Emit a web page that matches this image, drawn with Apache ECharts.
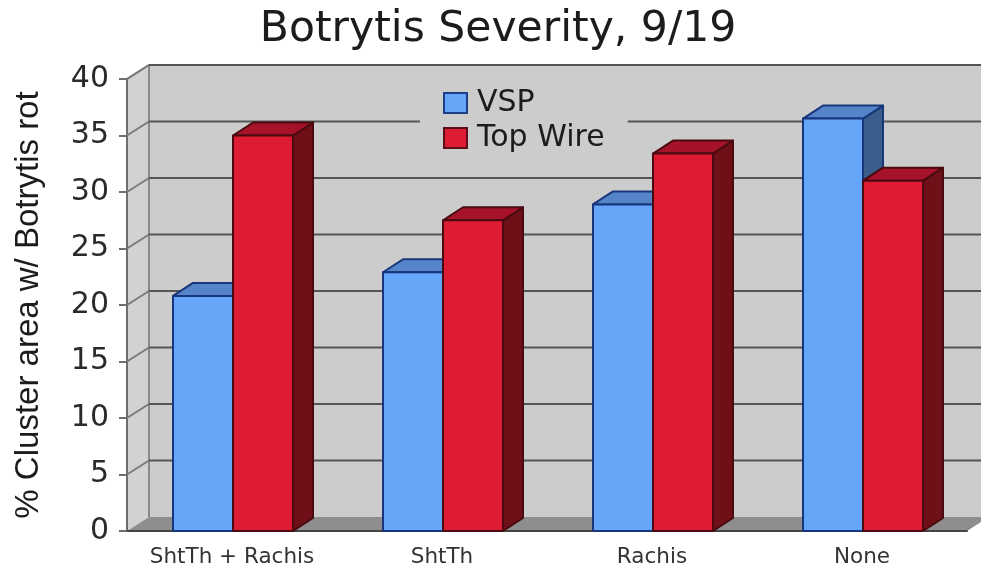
<!DOCTYPE html>
<html>
<head>
<meta charset="utf-8">
<style>html,body{margin:0;padding:0;background:#fff}#c{width:981px;height:569px;filter:blur(0.5px)}</style>
<script src="https://cdn.jsdelivr.net/npm/echarts@6/dist/echarts.min.js"></script>
</head>
<body>
<div id="c"></div>
<script>
var categories = ['ShtTh + Rachis', 'ShtTh', 'Rachis', 'None'];
var vspValues = [20.8, 22.9, 28.9, 36.5];
var topWireValues = [35, 27.5, 33.4, 31];
var yTicks = [5, 10, 15, 20, 25, 30, 35, 40];
var titleText = 'Botrytis Severity, 9/19';
var yAxisName = '% Cluster area w/ Botrytis rot';

var DEPTH_X = 22, DEPTH_Y = 14, BAR_DEPTH_X = 20, BAR_DEPTH_Y = 13;
var BAR_RATIO = 60 / 210, GROUP_SHIFT = 1;

var chart = echarts.init(document.getElementById('c'), null, {renderer: 'canvas'});

function wallItem(params) {
  var g = params.coordSys;
  var l = g.x, r = g.x + g.width, t = g.y, b = g.y + g.height;
  var dx = DEPTH_X, dy = DEPTH_Y;
  var edge = {stroke: '#8a8a8a', lineWidth: 2, fill: null};
  return {type: 'group', children: [
    {type: 'polygon', shape: {points: [[l + dx, t - dy], [r + dx, t - dy], [r + dx, b - dy], [l + dx, b - dy]]}, style: {fill: '#cccccc'}},
    {type: 'polygon', shape: {points: [[l, t], [l + dx, t - dy], [l + dx, b - dy], [l, b]]}, style: {fill: '#d2d2d2'}},
    {type: 'polygon', shape: {points: [[l, b], [l + dx, b - dy], [r + dx, b - dy], [r, b]]}, style: {fill: '#8e8e8e'}},
    {type: 'polyline', shape: {points: [[l, t], [l + dx, t - dy], [r + dx, t - dy]]}, style: edge},
    {type: 'line', shape: {x1: l + dx, y1: t - dy, x2: l + dx, y2: b - dy}, style: edge}
  ]};
}

function gridItem(params, api) {
  var g = params.coordSys;
  var p = api.coord([0, api.value(1)]);
  var l = g.x, r = g.x + g.width, y = p[1];
  return {type: 'group', children: [
    {type: 'line', shape: {x1: l, y1: y, x2: l + DEPTH_X, y2: y - DEPTH_Y}, style: {stroke: '#7a7a7a', lineWidth: 2}},
    {type: 'line', shape: {x1: l + DEPTH_X, y1: y - DEPTH_Y, x2: r + DEPTH_X, y2: y - DEPTH_Y}, style: {stroke: '#555555', lineWidth: 2}}
  ]};
}

function barRenderer(slot, front, top, side, border) {
  return function (params, api) {
    var base = api.coord([api.value(0), 0]);
    var tip = api.coord([api.value(0), api.value(1)]);
    var w = api.size([1, 0])[0] * BAR_RATIO;
    var x0 = base[0] + GROUP_SHIFT + (slot - 1) * w, x1 = x0 + w;
    var y0 = base[1], y1 = tip[1];
    var dx = BAR_DEPTH_X, dy = BAR_DEPTH_Y;
    var s = {stroke: border, lineWidth: 2, lineJoin: 'round'};
    return {type: 'group', children: [
      {type: 'polygon', shape: {points: [[x1, y1], [x1 + dx, y1 - dy], [x1 + dx, y0 - dy], [x1, y0]]}, style: Object.assign({fill: side}, s)},
      {type: 'polygon', shape: {points: [[x0, y1], [x0 + dx, y1 - dy], [x1 + dx, y1 - dy], [x1, y1]]}, style: Object.assign({fill: top}, s)},
      {type: 'rect', shape: {x: x0, y: y1, width: w, height: y0 - y1}, style: Object.assign({fill: front}, s)}
    ]};
  };
}

chart.setOption({
  animation: false,
  backgroundColor: '#ffffff',
  title: {
    text: titleText, left: 493, top: 3, textAlign: 'center',
    textStyle: {fontFamily: 'DejaVu Sans', fontSize: 42.5, fontWeight: 'normal', color: '#1c1c1c'}
  },
  legend: {
    orient: 'vertical', left: 420, top: 83, padding: [5, 23, 5, 23],
    backgroundColor: '#cccccc', itemWidth: 23, itemHeight: 20, itemGap: 5,
    textStyle: {fontFamily: 'DejaVu Sans', fontSize: 30, color: '#1c1c1c', padding: [0, 0, 0, 5]},
    data: [
      {name: 'VSP', icon: 'rect', itemStyle: {color: '#66a6f8', borderColor: '#1c3f86', borderWidth: 2}},
      {name: 'Top Wire', icon: 'rect', itemStyle: {color: '#dd1c33', borderColor: '#5c0f18', borderWidth: 2}}
    ]
  },
  grid: {left: 127, right: 14, top: 79, bottom: 38},
  xAxis: {
    type: 'category', data: categories, boundaryGap: true,
    axisLine: {lineStyle: {color: '#444444', width: 2}},
    axisTick: {alignWithLabel: false, interval: 0, length: 7, lineStyle: {color: '#444444', width: 2}},
    axisLabel: {interval: 0, fontFamily: 'DejaVu Sans', fontSize: 21.5, color: '#333333', margin: 15}
  },
  yAxis: {
    type: 'value', min: 0, max: 40, interval: 5, splitLine: {show: false},
    axisLine: {show: true, lineStyle: {color: '#6e6e6e', width: 2}},
    axisTick: {show: true, length: 8, lineStyle: {color: '#6e6e6e', width: 2}},
    axisLabel: {fontFamily: 'DejaVu Sans', fontSize: 30, color: '#2a2a2a', margin: 18},
    name: yAxisName, nameLocation: 'middle', nameRotate: 90, nameGap: 82,
    nameTextStyle: {fontFamily: 'Liberation Sans', fontSize: 33, color: '#1c1c1c'}
  },
  series: [
    {type: 'custom', name: 'wall', silent: true, z: 0, data: [[0, 0]], renderItem: wallItem, encode: {x: 0, y: 1}},
    {type: 'custom', name: 'gridlines', silent: true, z: 1, data: yTicks.map(function (v) { return [0, v]; }), renderItem: gridItem, encode: {x: 0, y: 1}},
    {type: 'custom', name: 'VSP', z: 2, itemStyle: {color: '#66a6f8'},
     data: vspValues.map(function (v, i) { return [i, v]; }), encode: {x: 0, y: 1},
     renderItem: barRenderer(0, '#66a6f8', '#5585c8', '#3a5d8c', '#17367c')},
    {type: 'custom', name: 'Top Wire', z: 3, itemStyle: {color: '#dd1c33'},
     data: topWireValues.map(function (v, i) { return [i, v]; }), encode: {x: 0, y: 1},
     renderItem: barRenderer(1, '#dd1c33', '#a5122a', '#6f0f18', '#4a0a10')}
  ]
});
</script>
</body>
</html>
